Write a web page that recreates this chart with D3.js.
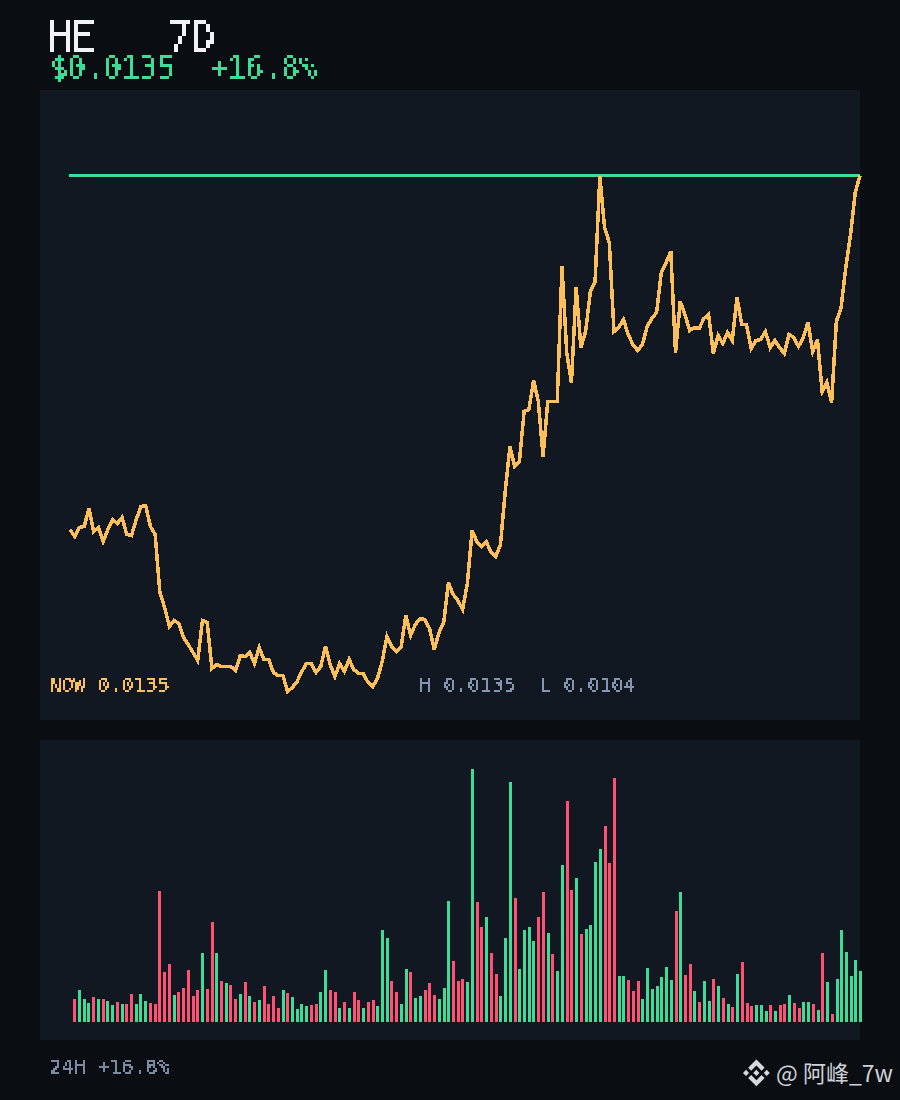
<!DOCTYPE html>
<html>
<head>
<meta charset="utf-8">
<script src="https://cdn.jsdelivr.net/npm/d3@7/dist/d3.min.js"></script>
<style>
html,body{margin:0;padding:0;background:#0a0d12;}
svg{display:block;}
text{font-family:"DejaVu Sans Mono",monospace;white-space:pre;}
</style>
</head>
<body>
<div id="chart"></div>
<script>
// Prices in millionths of a dollar, hourly over 7D
const prices = [11376,11334,11388,11394,11502,11364,11388,11304,11376,11436,11412,11448,11346,11340,11436,11514,11520,11394,11346,10998,
10908,10794,10830,10812,10728,10686,10638,10590,10830,10818,10542,10566,10554,10554,10554,10530,10620,10614,10638,10572,
10668,10596,10596,10518,10500,10500,10404,10428,10464,10524,10572,10572,10518,10554,10674,10566,10494,10572,10524,10596,
10536,10512,10512,10458,10434,10482,10584,10734,10674,10644,10674,10860,10740,10806,10842,10836,10782,10656,10758,10818,
11058,10986,10950,10896,11052,11370,11304,11274,11304,11238,11214,11286,11604,11874,11754,11784,12084,12096,12270,12144,
11814,12144,12144,12144,12954,12438,12258,12828,12468,12564,12804,12864,13494,13188,13098,12564,12588,12636,12546,12486,
12450,12486,12594,12642,12678,12918,12978,13044,12438,12744,12666,12570,12588,12582,12642,12666,12432,12540,12492,12558,
12510,12768,12606,12606,12462,12510,12516,12564,12468,12510,12468,12432,12546,12528,12474,12528,12618,12444,12516,12204,
12258,12138,12624,12708,12948,13146,13398,13500];

const volumes = [23,32,23,19,25,23,23,21,17,20,18,18,28,18,28,21,19,18,131,50,
58,27,30,34,52,26,32,69,33,100,69,41,39,37,23,28,40,26,20,22,
36,18,26,14,32,29,25,13,18,16,17,18,30,52,32,30,14,20,14,30,
22,14,20,22,16,92,84,41,30,18,53,50,24,26,32,39,27,23,34,121,
61,41,43,40,253,120,95,105,69,48,26,84,240,124,53,92,95,81,105,130,
89,68,51,157,221,132,144,88,93,97,160,173,196,159,244,46,46,42,31,41,
23,54,33,36,45,55,42,111,130,47,58,31,20,41,21,43,36,24,18,15,
48,60,19,16,17,17,11,17,11,17,18,27,19,14,20,20,18,12,69,40,
8,43,92,70,46,62,51];

// 1 = up bar, 0 = down bar
const volumeUp = [0,1,1,1,0,1,0,1,1,0,1,0,0,1,1,1,0,0,0,0,
0,1,0,0,0,0,0,1,0,0,1,0,1,0,0,1,0,1,0,1,
0,0,0,0,1,0,1,1,1,1,0,0,1,1,0,0,1,0,1,0,
0,1,0,0,1,1,1,0,0,1,1,0,1,1,0,0,0,1,1,1,
0,0,0,1,1,0,0,1,0,0,1,1,1,0,1,1,1,1,0,0,
1,0,1,1,0,0,1,0,1,1,1,1,0,0,0,1,1,0,0,0,
1,1,1,1,1,1,1,0,1,0,0,1,0,1,1,0,1,0,1,0,
1,0,0,0,1,1,1,0,1,0,0,1,0,0,1,1,0,1,0,1,
0,1,1,1,1,1,1];

const titleTexts = ["HE   7D"];
const priceTexts = ["$0.0135","+16.8%"];
const statTexts = ["NOW 0.0135","H 0.0135","L 0.0104"];
const footerText = "24H +16.8%";
const watermarkText = "@ 阿峰_7w";
const highPrice = 13500, lowPrice = 10400;

const C = {bg:"#0a0d12",panel:"#111822",green:"#3ddc97",red:"#ff5272",orange:"#fcbf5a",white:"#f1f3f8",gray:"#8496b0"};

const svg = d3.select("#chart").append("svg").attr("width",900).attr("height",1100);
const defs = svg.append("defs");

// Blocky bitmap look for real text: sample the glyph on a p-pixel grid and hold each sample
function pixelFilter(id,p,ox,oy){
  const f = defs.append("filter").attr("id",id)
    .attr("filterUnits","userSpaceOnUse").attr("x",0).attr("y",0).attr("width",900).attr("height",1100)
    .attr("color-interpolation-filters","sRGB");
  const h = Math.floor(p/2);
  f.append("feFlood").attr("x",ox+h).attr("y",oy+h).attr("width",1).attr("height",1).attr("flood-color","#000").attr("result","dot");
  f.append("feComposite").attr("in","dot").attr("in2","dot").attr("x",ox).attr("y",oy).attr("width",p).attr("height",p).attr("result","cell");
  f.append("feTile").attr("in","cell").attr("x",0).attr("y",0).attr("width",900).attr("height",1100).attr("result","grid");
  f.append("feComposite").attr("in","SourceGraphic").attr("in2","grid").attr("operator","in").attr("x",0).attr("y",0).attr("width",900).attr("height",1100).attr("result","samples");
  const t = p-1-h;
  f.append("feConvolveMatrix").attr("in","samples").attr("order",p).attr("kernelMatrix",new Array(p*p).fill(1).join(" "))
    .attr("divisor",1).attr("targetX",t).attr("targetY",t).attr("edgeMode","none").attr("preserveAlpha","false").attr("result","blocks");
  const m = f.append("feComponentTransfer").attr("in","blocks");
  m.append("feFuncA").attr("type","discrete").attr("tableValues","0 0 1 1 1");
}
pixelFilter("px4",4,2,0);
pixelFilter("px3",3,2,1);
pixelFilter("px3b",3,1,1);
pixelFilter("px2",2,0,0);
pixelFilter("px2b",2,1,0);

svg.append("rect").attr("width",900).attr("height",1100).attr("fill",C.bg);
const panels = [[40,90,820,630],[40,740,820,300]];
svg.selectAll("rect.panel").data(panels).join("rect").attr("class","panel")
  .attr("x",d=>d[0]).attr("y",d=>d[1]).attr("width",d=>d[2]).attr("height",d=>d[3]).attr("fill",C.panel);

const x = d3.scaleLinear().domain([0,prices.length-1]).range([70,860]);
const y = d3.scaleLinear().domain([lowPrice,highPrice]).range([692.17,175.5]);

svg.append("line").attr("x1",69).attr("x2",860).attr("y1",y(highPrice)).attr("y2",y(highPrice))
  .attr("stroke",C.green).attr("stroke-width",3).attr("shape-rendering","crispEdges");

svg.append("path").datum(prices)
  .attr("d",d3.line().x((d,i)=>x(i)).y(d=>y(d)))
  .attr("fill","none").attr("stroke",C.orange).attr("stroke-width",3.5)
  .attr("stroke-linejoin","miter").attr("shape-rendering","crispEdges");

const bx = d3.scaleLinear().domain([0,volumes.length-1]).range([73.2,859.2]);
const by = d3.scaleLinear().domain([0,d3.max(volumes)]).range([1022,769]);
svg.selectAll("rect.bar").data(volumes).join("rect").attr("class","bar")
  .attr("x",(d,i)=>Math.round(bx(i))).attr("width",3)
  .attr("y",d=>by(d)).attr("height",d=>by(0)-by(d))
  .attr("fill",(d,i)=>volumeUp[i]?C.green:C.red).attr("shape-rendering","crispEdges");

function label(t,x0,base,size,color,flt,adv){
  const ctx = document.createElement("canvas").getContext("2d");
  ctx.font = size+'px "DejaVu Sans Mono"';
  const ls = adv - ctx.measureText("0").width;
  svg.append("text").attr("x",x0).attr("y",base).attr("font-size",size).attr("fill",color)
    .attr("letter-spacing",ls).attr("filter","url(#"+flt+")").text(t);
}
label(titleTexts[0],47.5,52,40,C.white,"px4",24);
label(priceTexts[0],49.5,78,30,C.green,"px3b",18);
label(priceTexts[1],209.5,78,30,C.green,"px3",18);
label(statTexts[0],50,692,20,C.orange,"px2b",12);
label(statTexts[1],420,692,20,C.gray,"px2",12);
label(statTexts[2],540,692,20,C.gray,"px2",12);
label(footerText,50,1074,20,"#7b8ba1","px2b",12);

const logo = svg.append("g").attr("transform","translate(743,1059.5) scale(0.2115)").attr("fill","#d5dae0");
["M38.73 53.2l24.59-24.58 24.6 24.6 14.3-14.31L63.32 0 24.43 38.9z",
 "M0 63.31l14.3-14.31 14.31 14.31-14.31 14.3z",
 "M38.73 73.41L63.32 98l24.6-24.6 14.31 14.29-38.9 38.91-38.91-38.88z",
 "M98 63.31l14.3-14.31 14.31 14.31-14.31 14.3z",
 "M77.83 63.3L63.32 48.78 52.59 59.51l-1.24 1.23-2.54 2.54 14.51 14.5 14.51-14.51z"
].forEach(p=>logo.append("path").attr("d",p));
svg.append("text").attr("x",776).attr("y",1082).attr("font-size",23)
  .style("font-family",'"Noto Sans CJK SC","Noto Sans",sans-serif').attr("fill","#cdd2d8").text(watermarkText);
</script>
</body>
</html>
